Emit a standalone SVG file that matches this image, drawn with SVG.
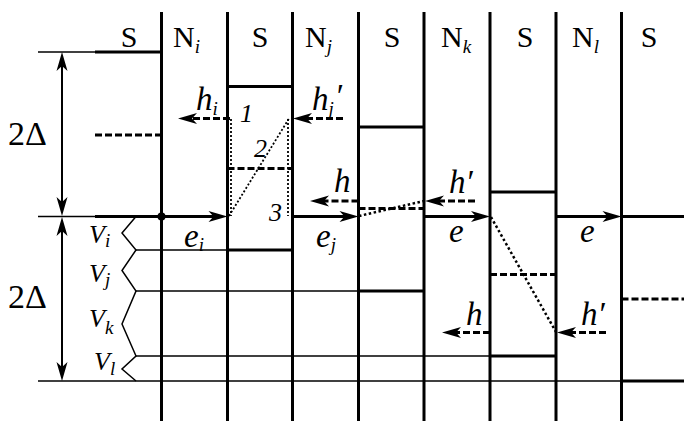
<svg xmlns="http://www.w3.org/2000/svg" width="684" height="421" viewBox="0 0 684 421" font-family="Liberation Serif, Times New Roman, serif">
<style>
.thick{stroke:#000;stroke-width:3;fill:none}
.thin{stroke:#000;stroke-width:1.5;fill:none}
.dash{stroke:#000;stroke-width:3;stroke-dasharray:7 3;fill:none}
.dot{stroke:#000;stroke-width:2.5;stroke-dasharray:2.5 2.5;fill:none}
.dotf{stroke:#000;stroke-width:1.8;stroke-dasharray:2 2;fill:none}
.up{font-size:30px}
.it{font-style:italic}
.big{font-size:33px}
.sub{font-size:19px}
.v{font-size:26px}
.num{font-size:26px}
</style>
<defs>
<marker id="ah" markerUnits="userSpaceOnUse" markerWidth="24" markerHeight="16" viewBox="-12 -8 24 16" refX="0" refY="0" orient="auto-start-reverse">
<path d="M8,0 L-11,-5.5 L-6,0 L-11,5.5 Z" fill="#000"/>
</marker>
</defs>

<g id="levels">
  <line class="thick" x1="161.5" y1="12" x2="161.5" y2="421"/>
  <line class="thick" x1="227.5" y1="12" x2="227.5" y2="421"/>
  <line class="thick" x1="292.5" y1="12" x2="292.5" y2="421"/>
  <line class="thick" x1="358.5" y1="12" x2="358.5" y2="421"/>
  <line class="thick" x1="424" y1="12" x2="424" y2="421"/>
  <line class="thick" x1="490" y1="12" x2="490" y2="421"/>
  <line class="thick" x1="556" y1="12" x2="556" y2="421"/>
  <line class="thick" x1="621.5" y1="12" x2="621.5" y2="421"/>
  <line class="thin" x1="38" y1="52" x2="95" y2="52"/>
  <line class="thin" x1="38" y1="216.5" x2="95" y2="216.5"/>
  <line class="thin" x1="136" y1="250" x2="227.5" y2="250"/>
  <line class="thin" x1="136" y1="291" x2="358.5" y2="291"/>
  <line class="thin" x1="136" y1="356" x2="490" y2="356"/>
  <line class="thin" x1="38" y1="381" x2="621.5" y2="381"/>
  <polyline class="thin" points="136,216.5 122,233 136,250 122,270.5 136,291 122,324 136,356 122,369 136,381"/>
</g>

<g id="S0">
  <line class="thick" x1="95" y1="52" x2="161.5" y2="52"/>
  <line class="dash" x1="95" y1="135" x2="161.5" y2="135"/>
  <text class="up" x="129" y="47" text-anchor="middle">S</text>
</g>
<g id="Ni">
  <text class="up" x="173" y="47">N<tspan class="it sub" dy="6">i</tspan></text>
</g>
<g id="S1">
  <line class="thick" x1="227.5" y1="86.5" x2="292.5" y2="86.5"/>
  <line class="thick" x1="227.5" y1="250" x2="292.5" y2="250"/>
  <line class="dash" x1="227.5" y1="168.5" x2="292.5" y2="168.5"/>
  <text class="up" x="260" y="47" text-anchor="middle">S</text>
  <text class="it num" x="240" y="122">1</text>
  <text class="it num" x="254" y="157">2</text>
  <text class="it num" x="269" y="221">3</text>
</g>
<g id="Nj">
  <text class="up" x="305" y="47">N<tspan class="it sub" dy="6">j</tspan></text>
</g>
<g id="S2">
  <line class="thick" x1="358.5" y1="127" x2="424" y2="127"/>
  <line class="thick" x1="358.5" y1="291" x2="424" y2="291"/>
  <line class="dash" x1="358.5" y1="208.5" x2="424" y2="208.5"/>
  <text class="up" x="392" y="47" text-anchor="middle">S</text>
</g>
<g id="Nk">
  <text class="up" x="441" y="47">N<tspan class="it sub" dy="6">k</tspan></text>
</g>
<g id="S3">
  <line class="thick" x1="490" y1="192" x2="556" y2="192"/>
  <line class="thick" x1="490" y1="356" x2="556" y2="356"/>
  <line class="dash" x1="490" y1="274.5" x2="556" y2="274.5"/>
  <text class="up" x="525" y="47" text-anchor="middle">S</text>
</g>
<g id="Nl">
  <text class="up" x="572" y="47">N<tspan class="it sub" dy="6">l</tspan></text>
</g>
<g id="S4">
  <line class="thick" x1="621.5" y1="216.5" x2="684" y2="216.5"/>
  <line class="thick" x1="621.5" y1="381" x2="684" y2="381"/>
  <line class="dash" x1="621.5" y1="299" x2="684" y2="299"/>
  <text class="up" x="649" y="47" text-anchor="middle">S</text>
</g>

<g id="connectors">
  <line class="thin" style="stroke-width:2" x1="62" y1="208" x2="62" y2="60" marker-start="url(#ah)" marker-end="url(#ah)"/>
  <line class="thin" style="stroke-width:2" x1="62" y1="225" x2="62" y2="373" marker-start="url(#ah)" marker-end="url(#ah)"/>
  <line class="thick" x1="95" y1="216.5" x2="219.5" y2="216.5" marker-end="url(#ah)"/>
  <circle cx="161.5" cy="216.5" r="4" fill="#000"/>
  <line class="thick" x1="292.5" y1="216.5" x2="350.5" y2="216.5" marker-end="url(#ah)"/>
  <line class="thick" x1="424" y1="216.5" x2="482" y2="216.5" marker-end="url(#ah)"/>
  <line class="thick" x1="556" y1="216.5" x2="613.5" y2="216.5" marker-end="url(#ah)"/>
  <line class="dash" x1="230" y1="118.5" x2="186" y2="118.5" marker-end="url(#ah)"/>
  <line class="dash" x1="343" y1="118.5" x2="301" y2="118.5" marker-end="url(#ah)"/>
  <line class="dash" x1="358.5" y1="201" x2="318" y2="201" marker-end="url(#ah)"/>
  <line class="dash" x1="475" y1="201" x2="433" y2="201" marker-end="url(#ah)"/>
  <line class="dash" x1="490" y1="332.5" x2="450" y2="332.5" marker-end="url(#ah)"/>
  <line class="dash" x1="606" y1="332.5" x2="565" y2="332.5" marker-end="url(#ah)"/>
  <line class="dotf" x1="231" y1="119" x2="231" y2="216"/>
  <line class="dotf" x1="288" y1="119" x2="288" y2="216"/>
  <line class="dotf" x1="229" y1="216" x2="289" y2="118.5"/>
  <line class="dot" x1="359" y1="216" x2="424" y2="201"/>
  <line class="dot" x1="491" y1="217" x2="556" y2="332"/>
</g>

<g id="labels">
  <text x="8" y="145" font-size="34">2Δ</text>
  <text x="8" y="308" font-size="34">2Δ</text>
  <text class="it v" x="89" y="243">V<tspan class="sub" dy="4">i</tspan></text>
  <text class="it v" x="89" y="282">V<tspan class="sub" dy="4">j</tspan></text>
  <text class="it v" x="89" y="327">V<tspan class="sub" dy="7">k</tspan></text>
  <text class="it v" x="94" y="370">V<tspan class="sub" dy="5">l</tspan></text>
  <text class="it big" x="196" y="110">h<tspan class="sub" dy="5">i</tspan></text>
  <text class="it big" x="312" y="110">h<tspan class="sub" dy="5">j</tspan><tspan dx="1" dy="-8">′</tspan></text>
  <text class="it big" x="334" y="192">h</text>
  <text class="it big" x="449" y="193">h′</text>
  <text class="it big" x="466" y="325">h</text>
  <text class="it big" x="581" y="325">h′</text>
  <text class="it big" x="184" y="247">e<tspan class="sub" dy="4">i</tspan></text>
  <text class="it big" x="316" y="247">e<tspan class="sub" dy="4">j</tspan></text>
  <text class="it big" x="449" y="242">e</text>
  <text class="it big" x="580" y="242">e</text>
</g>
</svg>
